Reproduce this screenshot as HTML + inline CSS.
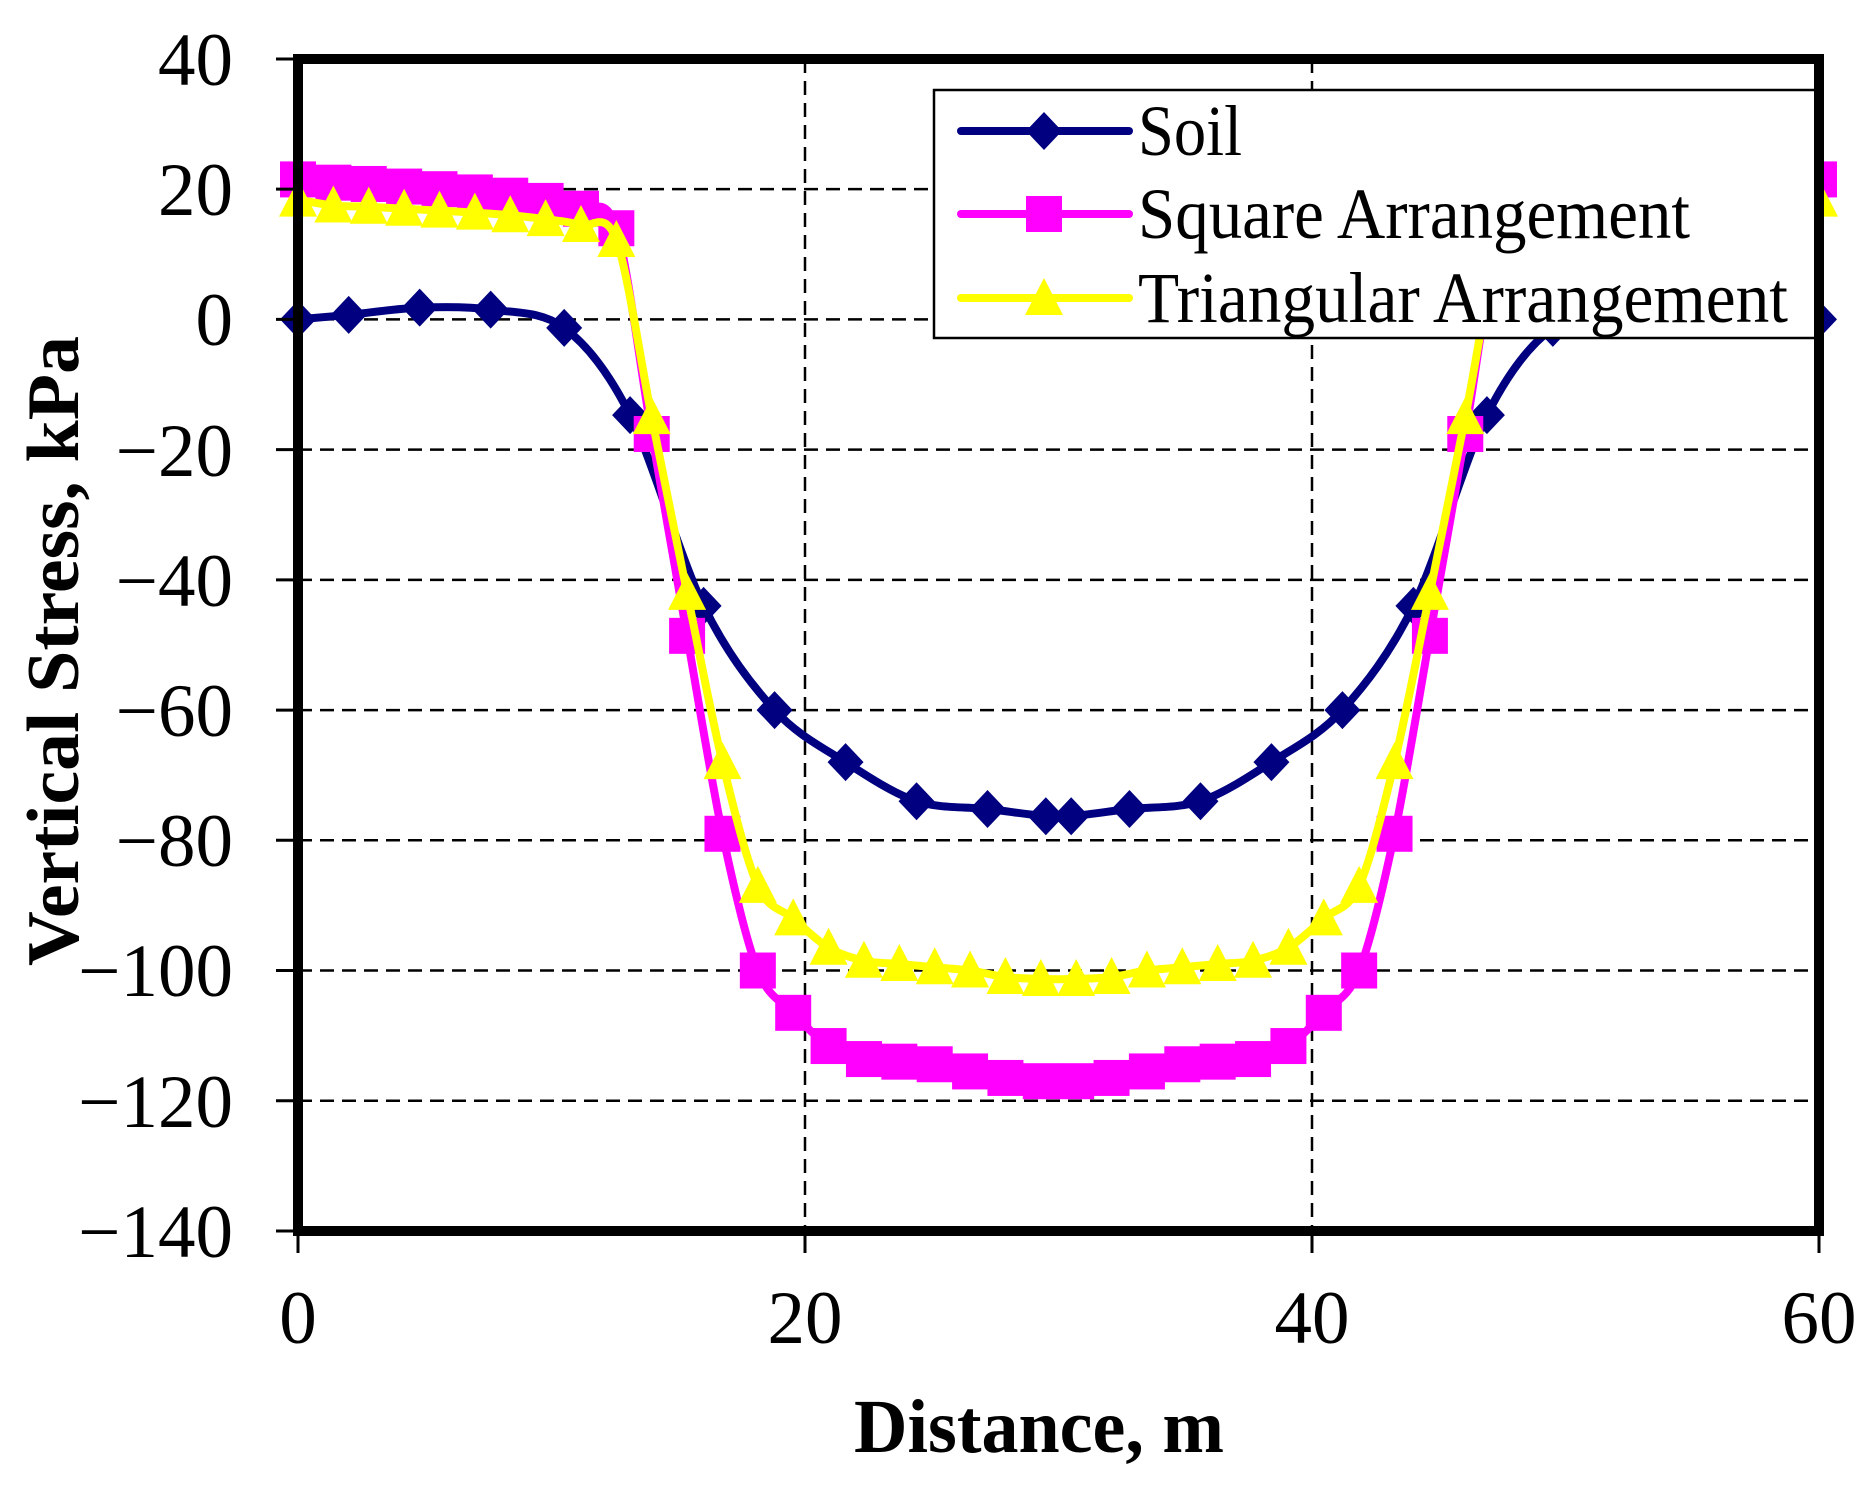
<!DOCTYPE html>
<html><head><meta charset="utf-8"><style>
html,body{margin:0;padding:0;background:#fff;}
svg{display:block;}
text{font-family:"Liberation Serif","Times New Roman",serif;fill:#000;}
</style></head><body>
<svg id="s" width="1873" height="1491" viewBox="0 0 1873 1491" xmlns="http://www.w3.org/2000/svg">
<rect width="1873" height="1491" fill="#fff"/>
<g id="grid" stroke="#000" stroke-width="2.5" stroke-dasharray="14,8" fill="none"></g>
<g id="series"></g>
<!-- legend -->
<rect x="934" y="90" width="888" height="248" fill="#fff" stroke="#000" stroke-width="2.5"/>
<g id="leg"></g>
<text x="1138" y="155" font-size="72" textLength="104" lengthAdjust="spacingAndGlyphs">Soil</text>
<text x="1138" y="238" font-size="72" textLength="552" lengthAdjust="spacingAndGlyphs">Square Arrangement</text>
<text x="1138" y="322" font-size="72" textLength="650" lengthAdjust="spacingAndGlyphs">Triangular Arrangement</text>
<!-- axes frame -->
<rect x="298" y="59" width="1521" height="1172" fill="none" stroke="#000" stroke-width="10"/>
<g id="ticks" stroke="#000" stroke-width="3"></g>
<g font-size="75" text-anchor="end">
<text x="233" y="85">40</text>
<text x="233" y="215">20</text>
<text x="233" y="345">0</text>
<text x="233" y="476">−20</text>
<text x="233" y="606">−40</text>
<text x="233" y="736">−60</text>
<text x="233" y="866">−80</text>
<text x="233" y="996">−100</text>
<text x="233" y="1127">−120</text>
<text x="233" y="1257">−140</text>
</g>
<g font-size="75" text-anchor="middle">
<text x="298" y="1343">0</text>
<text x="805" y="1343">20</text>
<text x="1312" y="1343">40</text>
<text x="1819" y="1343">60</text>
</g>
<text x="1039" y="1452" font-size="76" font-weight="bold" text-anchor="middle" textLength="370" lengthAdjust="spacingAndGlyphs">Distance, m</text>
<text transform="translate(78,651) rotate(-90)" font-size="74" font-weight="bold" text-anchor="middle" textLength="630" lengthAdjust="spacingAndGlyphs">Vertical Stress, kPa</text>
</svg>
<script>
var NS="http://www.w3.org/2000/svg";
function X(v){return 298+v*1521/60;}
function Y(v){return 319.4-v*1172/180;}
function el(p,t,a){var e=document.createElementNS(NS,t);for(var k in a)e.setAttribute(k,a[k]);p.appendChild(e);return e;}
var grid=document.getElementById('grid');
[20,0,-20,-40,-60,-80,-100,-120].forEach(function(v){el(grid,'line',{x1:298,x2:1819,y1:Y(v),y2:Y(v)});});
[20,40].forEach(function(v){el(grid,'line',{x1:X(v),x2:X(v),y1:59,y2:1231});});
var tk=document.getElementById('ticks');
for(var v=40;v>=-140;v-=20)el(tk,'line',{x1:276,x2:298,y1:Y(v),y2:Y(v)});
for(var v=0;v<=60;v+=20)el(tk,'line',{x1:X(v),x2:X(v),y1:1231,y2:1253});
function sym(xs,ys){var px=xs.slice(),py=ys.slice();for(var i=xs.length-1;i>=0;i--){px.push(60-xs[i]);py.push(ys[i]);}return [px,py];}
var sx=[0,2,4.8,7.6,10.5,13.1,16,18.8,21.6,24.4,27.2,29.5];
var sy=[0,0.7,1.8,1.5,-1.3,-14.7,-44,-60,-68,-74,-75.2,-76.3];
var S=sym(sx,sy);
var st=60/43,qx=[],i;for(i=0;i<22;i++)qx.push(i*st);
var qy=[21.5,21,20.8,20.4,20,19.5,19,18.2,17,14,-17.6,-48.6,-79,-100,-106.5,-111.6,-113.6,-114,-114.4,-115.5,-116.5,-117];
var ty=[18.4,17.5,17.3,17,16.7,16.4,16,15.4,14.5,12.2,-15,-42,-68,-87,-92,-96.5,-98.5,-99,-99.5,-100,-101,-101.3];
var Q=sym(qx,qy),T=sym(qx,ty);
function path(xs,ys){var P=xs.map(function(x,i){return [X(x),Y(ys[i])];});var d='M'+P[0][0]+','+P[0][1];var t=0.16;
for(var i=0;i<P.length-1;i++){var p0=P[i-1]||P[i],p1=P[i],p2=P[i+1],p3=P[i+2]||P[i+1];
d+=' C'+(p1[0]+(p2[0]-p0[0])*t)+','+(p1[1]+(p2[1]-p0[1])*t)+' '+(p2[0]-(p3[0]-p1[0])*t)+','+(p2[1]-(p3[1]-p1[1])*t)+' '+p2[0]+','+p2[1];}
return d;}
var g=document.getElementById('series');
function dia(p,x,y,c){el(p,'polygon',{points:(x)+','+(y-19)+' '+(x+18)+','+y+' '+x+','+(y+19)+' '+(x-18)+','+y,fill:c});}
function sq(p,x,y,c){el(p,'rect',{x:x-18,y:y-18,width:36,height:36,fill:c});}
function tri(p,x,y,c){el(p,'polygon',{points:x+','+(y-20)+' '+(x+19)+','+(y+17)+' '+(x-19)+','+(y+17),fill:c});}
function series(D,c,m){el(g,'path',{d:path(D[0],D[1]),stroke:c,'stroke-width':8,fill:'none','stroke-linejoin':'round'});
D[0].forEach(function(x,i){m(g,X(x),Y(D[1][i]),c);});}
series(S,'#000080',dia);series(Q,'#ff00ff',sq);series(T,'#ffff00',tri);
var L=document.getElementById('leg');
[[131,'#000080',dia],[214,'#ff00ff',sq],[298,'#ffff00',tri]].forEach(function(r){
el(L,'line',{x1:961,x2:1129,y1:r[0],y2:r[0],stroke:r[1],'stroke-width':8,'stroke-linecap':'round'});r[2](L,1044,r[0],r[1]);});
</script>
</body></html>
